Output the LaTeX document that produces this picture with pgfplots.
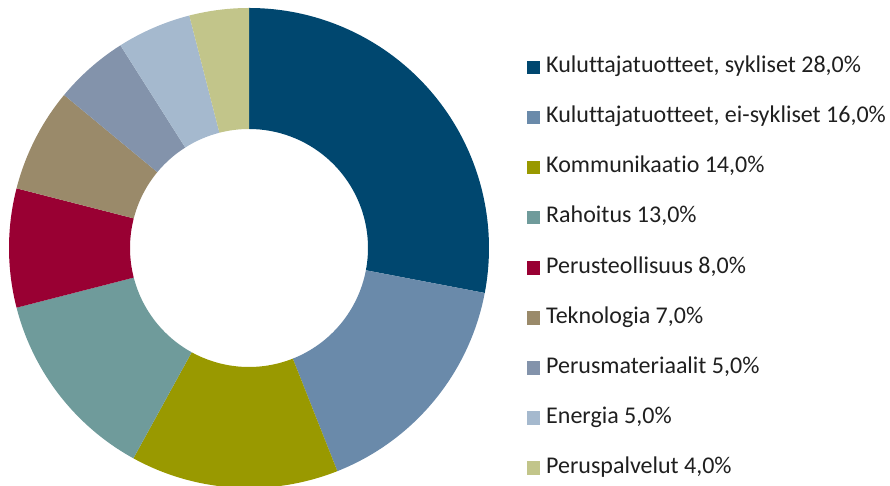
\documentclass[border=0pt]{standalone}
\usepackage{pgfplots}
\pgfplotsset{compat=1.18}
\usepackage{pgfplotstable}
\usepackage{fontspec}
\setmainfont{Carlito}[Ligatures={NoCommon}]
\definecolor{c0}{HTML}{00476F}
\definecolor{c1}{HTML}{6A8AAA}
\definecolor{c2}{HTML}{999900}
\definecolor{c3}{HTML}{6F9B9B}
\definecolor{c4}{HTML}{990033}
\definecolor{c5}{HTML}{9A8A6A}
\definecolor{c6}{HTML}{8393AB}
\definecolor{c7}{HTML}{A5B9CE}
\definecolor{c8}{HTML}{C2C58A}
\pgfplotstableread[col sep=comma]{
label,value
{Kuluttajatuotteet, sykliset},28
{Kuluttajatuotteet, ei-sykliset},16
Kommunikaatio,14
Rahoitus,13
Perusteollisuus,8
Teknologia,7
Perusmateriaalit,5
Energia,5
Peruspalvelut,4
}\data
\begin{document}
\begin{tikzpicture}
\begin{axis}[
  name=ax,
  scale only axis, width=890pt, height=486pt,
  xmin=0, xmax=890, ymin=0, ymax=486,
  hide axis,
  legend cell align=left,
  legend image code/.code={\fill[#1] (0pt,-7pt) rectangle (13.5pt,6.5pt);},
  legend style={at={(axis cs:523.5,431.5)}, anchor=north west, draw=none, fill=none,
    font=\fontsize{24}{28}\selectfont, text=black!88,
    nodes={inner sep=0pt, text height=16pt, text depth=5pt},
    row sep=29.1pt, column sep=6pt},
]
\pgfmathsetmacro\cum{0}
\pgfplotsforeachungrouped \i in {0,...,8}{%
  \pgfplotstablegetelem{\i}{value}\of\data
  \let\v\pgfplotsretval
  \pgfmathsetmacro\aA{90-3.6*\cum}
  \pgfmathsetmacro\aB{90-3.6*(\cum+\v)}
  \pgfmathsetmacro\xA{249+240*cos(\aA)}
  \pgfmathsetmacro\yA{238+240*sin(\aA)}
  \pgfmathsetmacro\xB{249+119*cos(\aB)}
  \pgfmathsetmacro\yB{238+119*sin(\aB)}
  \edef\cmd{\noexpand\fill[c\i] (axis cs:\xA,\yA) arc[start angle=\aA, end angle=\aB, radius=240pt] -- (axis cs:\xB,\yB) arc[start angle=\aB, end angle=\aA, radius=119pt] -- cycle;}
  \cmd
  \pgfmathsetmacro\cum{\cum+\v}
}
\pgfplotsforeachungrouped \i in {0,...,8}{%
  \pgfplotstablegetelem{\i}{label}\of\data
  \let\lab\pgfplotsretval
  \pgfplotstablegetelem{\i}{value}\of\data
  \let\v\pgfplotsretval
  \edef\cmd{\noexpand\addlegendimage{fill=c\i, draw=none}\noexpand\addlegendentry{\lab\space\v,0\noexpand\%}}
  \cmd
}
\end{axis}
\pgfresetboundingbox
\path[use as bounding box] (ax.south west) rectangle (ax.north east);
\end{tikzpicture}
\end{document}
